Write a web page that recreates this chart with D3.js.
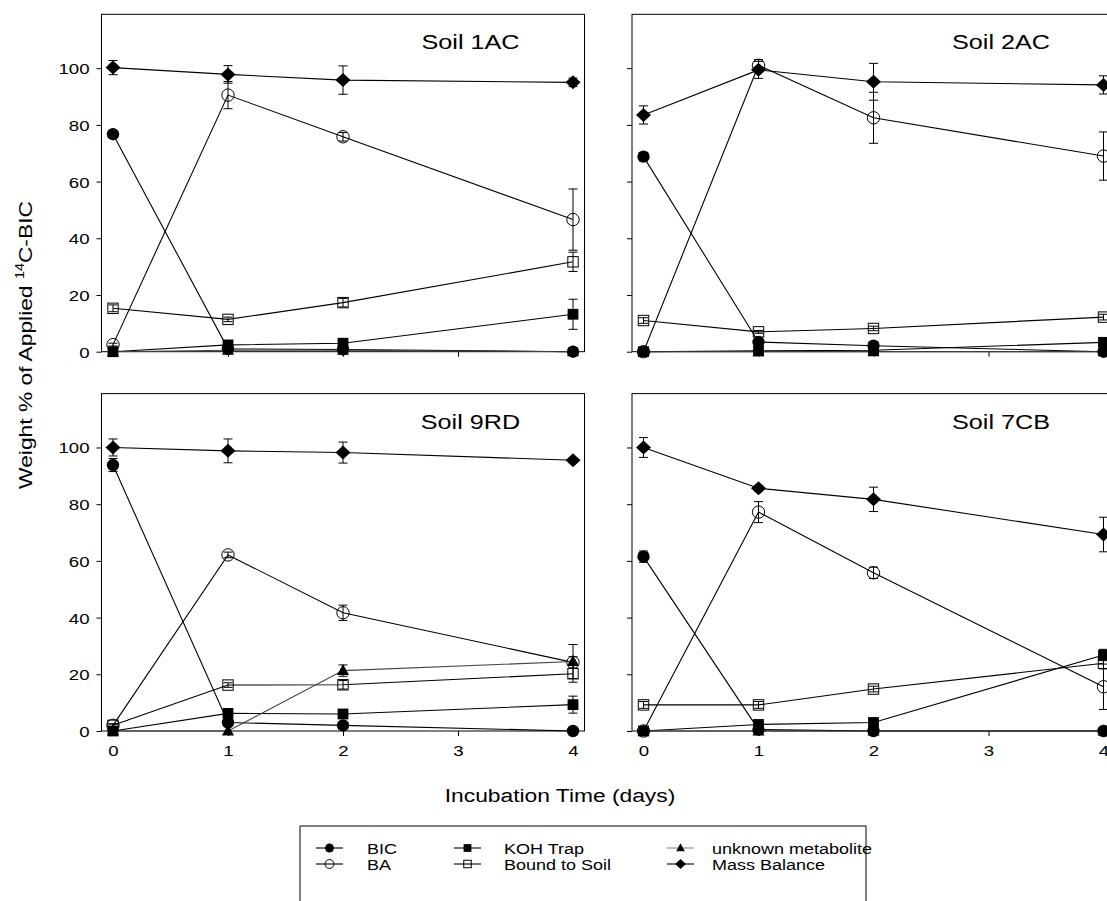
<!DOCTYPE html>
<html><head><meta charset="utf-8">
<script src="https://cdn.jsdelivr.net/npm/d3@7"></script>
<style>
body{margin:0;background:#fff}
svg{display:block}
text{font-family:"Liberation Sans",Arial,Helvetica,sans-serif;fill:#000}
</style>
</head><body>
<svg id="c" width="1107" height="901"></svg>
<script>
// ---------- data ----------
const days = [0, 1, 2, 4];
const xTickValues = [0, 1, 2, 3, 4];
const yTickValues = [0, 20, 40, 60, 80, 100];
const panelNames = ["Soil 1AC", "Soil 2AC", "Soil 9RD", "Soil 7CB"];
const seriesNames = ["BIC", "BA", "KOH Trap", "Bound to Soil", "unknown metabolite", "Mass Balance"];

// Soil 1AC
const s1AC_BIC = [76.7, 1.0, 0.8, 0];       const s1AC_BIC_err = [1, 0, 0, 0];
const s1AC_BA = [2.5, 90.5, 75.8, 46.6];    const s1AC_BA_err = [0.5, 4.8, 1.5, 10.8];
const s1AC_KOH = [0, 2.4, 3.0, 13.2];       const s1AC_KOH_err = [0, 0.5, 0.5, 5.3];
const s1AC_Bound = [15.3, 11.4, 17.3, 31.7]; const s1AC_Bound_err = [1.2, 0.8, 1.5, 3.4];
const s1AC_Unk = [0, 0.5, 0.5, 0];          const s1AC_Unk_err = [0, 0, 0, 0];
const s1AC_Mass = [100.2, 97.8, 95.8, 95.0]; const s1AC_Mass_err = [2.5, 3.1, 5.0, 1.5];

// Soil 2AC
const s2AC_BIC = [68.8, 3.4, 2.1, 0];       const s2AC_BIC_err = [1.5, 0.5, 0.5, 0];
const s2AC_BA = [0, 101, 82.5, 69];         const s2AC_BA_err = [0, 2, 9, 8.5];
const s2AC_KOH = [0, 0.3, 0.5, 3.3];        const s2AC_KOH_err = [0, 0, 0, 0.5];
const s2AC_Bound = [11.0, 7.0, 8.2, 12.2];  const s2AC_Bound_err = [1, 0.5, 0.8, 1];
const s2AC_Unk = [0, 0, 0, 0];              const s2AC_Unk_err = [0, 0, 0, 0];
const s2AC_Mass = [83.5, 99.4, 95.2, 94.1]; const s2AC_Mass_err = [3.2, 3, 6.5, 3.2];

// Soil 9RD
const s9RD_BIC = [93.8, 3, 2, 0];           const s9RD_BIC_err = [2.3, 0.5, 0.5, 0];
const s9RD_BA = [2, 62.1, 41.7, 24.2];      const s9RD_BA_err = [0.5, 1, 2.7, 2];
const s9RD_KOH = [0, 6.2, 6.0, 9.3];        const s9RD_KOH_err = [0, 1.5, 1, 3];
const s9RD_Bound = [2, 16.2, 16.3, 20.2];   const s9RD_Bound_err = [0.5, 0.8, 1.5, 3];
const s9RD_Unk = [0, 0, 21.3, 24.5];        const s9RD_Unk_err = [0, 0, 2, 6];
const s9RD_Mass = [100, 98.8, 98.2, 95.5];  const s9RD_Mass_err = [3, 4.2, 3.7, 0.8];

// Soil 7CB
const s7CB_BIC = [61.5, 0.5, 0, 0];         const s7CB_BIC_err = [2, 0, 0, 0];
const s7CB_BA = [0, 77.2, 55.8, 15.6];      const s7CB_BA_err = [0, 3.7, 2, 8];
const s7CB_KOH = [0, 2.3, 3.0, 26.8];       const s7CB_KOH_err = [0, 0.5, 0.5, 2];
const s7CB_Bound = [9.2, 9.2, 14.8, 23.9];  const s7CB_Bound_err = [1.2, 1.2, 1, 2];
const s7CB_Unk = [0, 0, 0, 0];              const s7CB_Unk_err = [0, 0, 0, 0];
const s7CB_Mass = [100, 85.6, 81.7, 69.3];  const s7CB_Mass_err = [3.5, 1, 4.3, 6.1];

// ---------- layout ----------
const SX = 1.2;               // wide lettering of the original
const PW = 483, PH = 337.4;
const panelPos = [{x:101.5,y:14.3},{x:632,y:14.3},{x:101.5,y:393.6},{x:632,y:393.6}];
const markerTypes = ["circleF","circleO","squareF","squareO","triF","diamF"];
const lineColors = ["#000","#000","#000","#000","#444","#000"];

const panels = [
  {vals:[s1AC_BIC,s1AC_BA,s1AC_KOH,s1AC_Bound,s1AC_Unk,s1AC_Mass], errs:[s1AC_BIC_err,s1AC_BA_err,s1AC_KOH_err,s1AC_Bound_err,s1AC_Unk_err,s1AC_Mass_err]},
  {vals:[s2AC_BIC,s2AC_BA,s2AC_KOH,s2AC_Bound,s2AC_Unk,s2AC_Mass], errs:[s2AC_BIC_err,s2AC_BA_err,s2AC_KOH_err,s2AC_Bound_err,s2AC_Unk_err,s2AC_Mass_err]},
  {vals:[s9RD_BIC,s9RD_BA,s9RD_KOH,s9RD_Bound,s9RD_Unk,s9RD_Mass], errs:[s9RD_BIC_err,s9RD_BA_err,s9RD_KOH_err,s9RD_Bound_err,s9RD_Unk_err,s9RD_Mass_err]},
  {vals:[s7CB_BIC,s7CB_BA,s7CB_KOH,s7CB_Bound,s7CB_Unk,s7CB_Mass], errs:[s7CB_BIC_err,s7CB_BA_err,s7CB_KOH_err,s7CB_Bound_err,s7CB_Unk_err,s7CB_Mass_err]}
];

const svg = d3.select("#c");
const x = d3.scaleLinear().domain([-0.1, 4.1]).range([0, PW]);
const y = d3.scaleLinear().domain([0, 119]).range([PH, 0]);

function marker(g, type, cx, cy, s) {
  s = s || 1;
  if (type === "circleF") g.append("circle").attr("cx",cx).attr("cy",cy).attr("r",6.2*s).attr("fill","#000");
  else if (type === "circleO") g.append("circle").attr("cx",cx).attr("cy",cy).attr("r",6.2*s).attr("fill","none").attr("stroke","#000").attr("stroke-width",1);
  else if (type === "squareF") g.append("rect").attr("x",cx-5.4*s).attr("y",cy-5.4*s).attr("width",10.8*s).attr("height",10.8*s).attr("fill","#000");
  else if (type === "squareO") g.append("rect").attr("x",cx-5.2*s).attr("y",cy-5.2*s).attr("width",10.4*s).attr("height",10.4*s).attr("fill","none").attr("stroke","#000").attr("stroke-width",1);
  else if (type === "triF") g.append("path").attr("d",`M${cx},${cy-6.5*s}L${cx+6*s},${cy+4.5*s}L${cx-6*s},${cy+4.5*s}Z`).attr("fill","#000");
  else if (type === "diamF") g.append("path").attr("d",`M${cx},${cy-7*s}L${cx+7.5*s},${cy}L${cx},${cy+7*s}L${cx-7.5*s},${cy}Z`).attr("fill","#000");
}

function sText(parent, tx, ty, str, size, anchor, rot) {
  const g = parent.append("g").attr("transform", `translate(${tx},${ty})` + (rot ? ` rotate(${rot})` : "") + ` scale(${SX},1)`);
  return g.append("text").attr("font-size", size).attr("text-anchor", anchor || "start").text(str);
}

const clipId = "clipAll";
svg.append("defs").append("clipPath").attr("id", clipId)
  .append("rect").attr("x",0).attr("y",0).attr("width",1107).attr("height",901);

panels.forEach((p, i) => {
  const pos = panelPos[i];
  const g = svg.append("g").attr("transform", `translate(${pos.x},${pos.y})`);
  const isLeft = (i % 2 === 0), isBottom = (i >= 2);

  // frame
  g.append("rect").attr("x",0).attr("y",0).attr("width",PW).attr("height",PH)
    .attr("fill","none").attr("stroke","#000").attr("stroke-width",1);

  // y axis
  const ya = g.append("g").call(d3.axisLeft(y).tickValues(yTickValues).tickSize(5).tickFormat(isLeft ? d3.format("d") : () => ""));
  ya.select(".domain").remove();
  ya.selectAll("line").attr("stroke","#000");
  ya.selectAll("text").attr("font-size",15.5).attr("x",-12/SX).attr("dy","0.35em")
    .attr("transform",`scale(${SX},1)`).attr("font-family",null);

  // x axis
  const xa = g.append("g").attr("transform",`translate(0,${PH})`)
    .call(d3.axisBottom(x).tickValues(xTickValues).tickSize(5).tickFormat(isBottom ? d3.format("d") : () => ""));
  xa.select(".domain").remove();
  xa.selectAll("line").attr("stroke","#000");
  xa.selectAll("text").attr("font-size",15.5).attr("y",10).attr("dy","0.95em").attr("font-family",null)
    .each(function(){ const t = d3.select(this.parentNode); });
  xa.selectAll(".tick text").attr("transform",`scale(${SX},1)`).attr("x",0);

  // series lines
  const line = d3.line().x((d) => x(d.day)).y((d) => y(d.v));
  p.vals.forEach((vals, si) => {
    const pts = days.map((d, k) => ({day:d, v:vals[k]}));
    g.append("path").datum(pts).attr("d", line).attr("fill","none")
      .attr("stroke", lineColors[si]).attr("stroke-width",1.1);
  });

  // markers
  p.vals.forEach((vals, si) => {
    days.forEach((d, k) => marker(g, markerTypes[si], x(d), y(vals[k]), 1));
  });

  // error bars
  p.vals.forEach((vals, si) => {
    const errs = p.errs[si];
    days.forEach((d, k) => {
      const e = errs[k];
      if (!e) return;
      const cx = x(d), y1 = y(vals[k] + e), y2 = y(Math.max(0, vals[k] - e));
      g.append("line").attr("x1",cx).attr("x2",cx).attr("y1",y1).attr("y2",y2).attr("stroke","#000").attr("stroke-width",1);
      [y1, y2].forEach((yy) => g.append("line").attr("x1",cx-4.5).attr("x2",cx+4.5).attr("y1",yy).attr("y2",yy).attr("stroke","#000").attr("stroke-width",1));
    });
  });

  // title
  sText(g, 369, 35, panelNames[i], 21, "middle");
});

// axis titles
sText(svg, 560, 802, "Incubation Time (days)", 19, "middle");
const yt = sText(svg, 32, 345, "", 19, "middle", -90);
yt.append("tspan").text("Weight % of Applied  ");
yt.append("tspan").attr("font-size",12).attr("dy",-8).text("14");
yt.append("tspan").attr("dy",8).text("C-BIC");

// legend
const lg = svg.append("g");
lg.append("path").attr("d","M300,910V826H866V910").attr("fill","none").attr("stroke","#000").attr("stroke-width",1);
const legendCols = [{x0:316, tx:367}, {x0:454, tx:504}, {x0:667, tx:712}];
const legendRows = [848, 864];
seriesNames.forEach((name, si) => {
  const col = legendCols[Math.floor(si / 2)];
  const ry = legendRows[si % 2];
  lg.append("line").attr("x1",col.x0).attr("x2",col.x0+27).attr("y1",ry).attr("y2",ry)
    .attr("stroke", si === 4 ? "#888" : "#000").attr("stroke-width",1.1);
  marker(lg, markerTypes[si], col.x0+13.5, ry, 0.72);
  sText(lg, col.tx, ry+5.5, name, 15, "start");
});
</script>
</body></html>
